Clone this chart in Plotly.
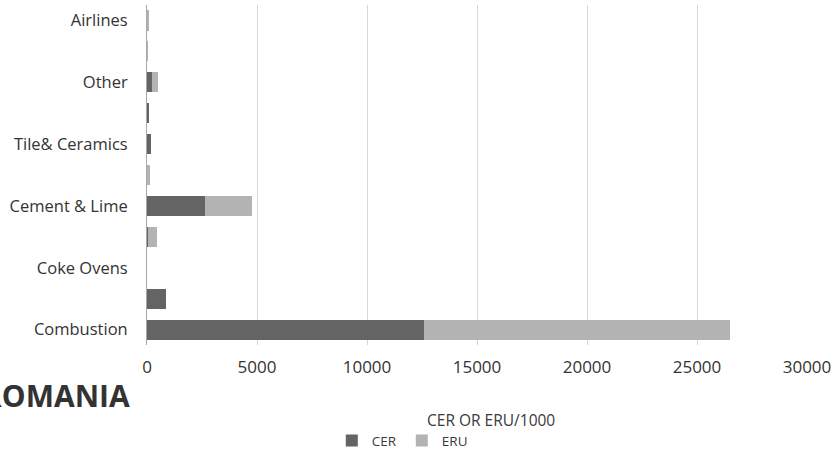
import plotly.graph_objects as go

# Sectors listed bottom to top; blank entries are unlabelled rows
sectors = ["Combustion", "", "Coke Ovens", "", "Cement & Lime", "",
           "Tile& Ceramics", "", "Other", "", "Airlines"]
cer = [12600, 880, 0, 60, 2650, 0, 200, 100, 230, 0, 0]
eru = [13900, 0, 0, 380, 2130, 130, 0, 0, 250, 40, 100]
x_ticks = [0, 5000, 10000, 15000, 20000, 25000, 30000]

rows = list(range(len(sectors)))
FONT = "Open Sans"

fig = go.Figure()
fig.add_trace(go.Bar(y=rows, x=cer, name="CER", orientation="h",
                     marker=dict(color="#646464", line=dict(width=0))))
fig.add_trace(go.Bar(y=rows, x=eru, name="ERU", orientation="h",
                     marker=dict(color="#b3b3b3", line=dict(width=0))))

fig.update_layout(
    width=838, height=456,
    margin=dict(l=147, r=31, t=5, b=111, autoexpand=False),
    barmode="stack", bargap=0.35,
    plot_bgcolor="white", paper_bgcolor="white",
    font=dict(family=FONT, color="#3a3a3a", size=15),
    legend=dict(orientation="h", x=0.28, y=-0.236, xanchor="left", yanchor="top",
                font=dict(size=13.5, color="#3a3a3a"), itemwidth=30,
                bgcolor="rgba(0,0,0,0)",
                traceorder="normal", tracegroupgap=0, itemclick=False),
    xaxis=dict(range=[0, 30000], tickvals=x_ticks, tickformat="d",
               showgrid=True, gridcolor="#d6d6d6", gridwidth=1,
               zeroline=False, showline=False, ticks="", automargin=False,
               tickfont=dict(size=17, color="#333333"), ticklabelstandoff=10),
    yaxis=dict(tickvals=rows, ticktext=sectors, range=[-0.5, len(sectors) - 0.5],
               showgrid=False, zeroline=False, showline=True, linecolor="#a8a8a8",
               linewidth=1, ticks="", ticklabelstandoff=15, automargin=False,
               tickfont=dict(size=16.5, color="#333333")),
    annotations=[
        dict(text="CER OR ERU/1000", xref="paper", yref="paper",
             x=0.521, y=-0.222, xanchor="center", yanchor="middle",
             showarrow=False, font=dict(size=15.5, color="#3a3a3a")),
        dict(text="<b>ROMANIA</b>", xref="paper", yref="paper",
             x=-0.022, y=-0.15, xanchor="right", yanchor="middle",
             showarrow=False, font=dict(size=30, color="#333333")),
    ],
)

fig.write_html("out.html")
